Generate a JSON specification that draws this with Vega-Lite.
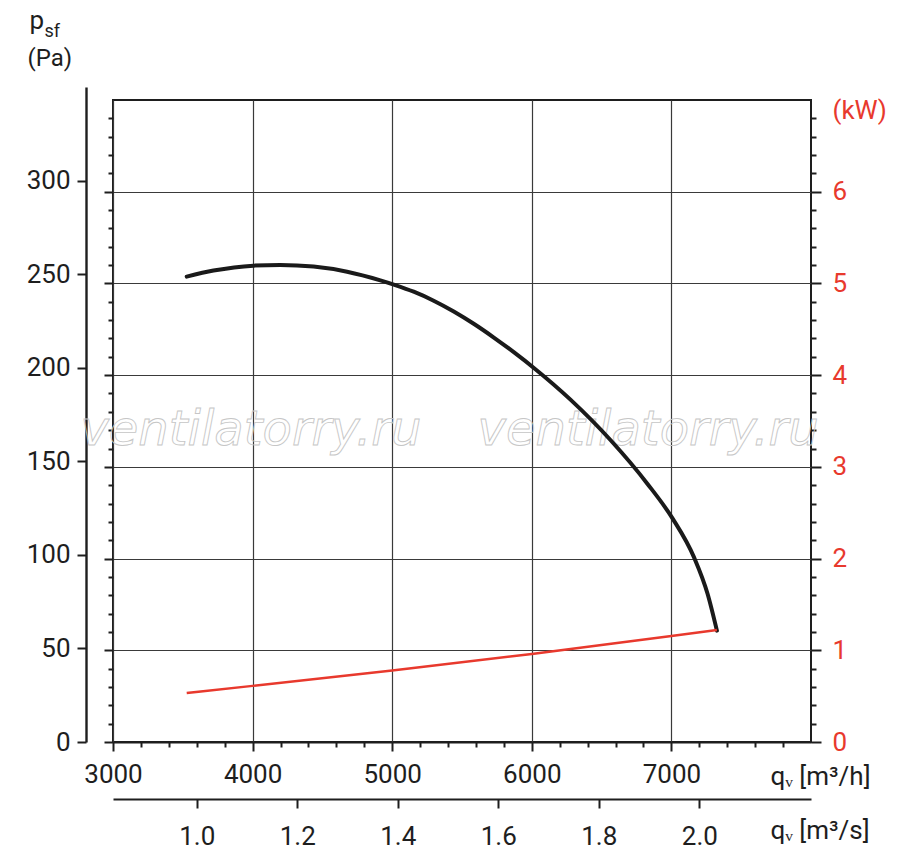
{
  "$schema": "https://vega.github.io/schema/vega-lite/v6.json",
  "autosize": {"type": "none"},
  "padding": {"left": 113, "top": 100, "right": 89, "bottom": 117},
  "width": 698,
  "height": 642,
  "background": "white",
  "config": {
    "view": {"stroke": "#1e1e1e", "strokeWidth": 2},
    "axis": {
      "labelFont": "Roboto",
      "titleFont": "Roboto",
      "labelFontSize": 26,
      "titleFontSize": 26,
      "titleFontWeight": "normal",
      "labelColor": "#1e1e1e",
      "titleColor": "#1e1e1e",
      "tickColor": "#1e1e1e",
      "domainColor": "#1e1e1e",
      "tickWidth": 2,
      "domainWidth": 2,
      "gridColor": "#3a3a3a",
      "gridWidth": 1.2,
      "gridOpacity": 1,
      "titleAngle": 0,
      "titleAlign": "left",
      "titleBaseline": "alphabetic",
      "labelFlush": false,
      "labelOverlap": false
    }
  },
  "datasets": {
    "fan": [
      {"q": 3528, "p": 253.7},
      {"q": 3720, "p": 257},
      {"q": 4006, "p": 259.7},
      {"q": 4198, "p": 260.1},
      {"q": 4437, "p": 259.2},
      {"q": 4677, "p": 256.4},
      {"q": 4915, "p": 251.7},
      {"q": 5011, "p": 249.4},
      {"q": 5154, "p": 245.5},
      {"q": 5297, "p": 240.6},
      {"q": 5441, "p": 234.7},
      {"q": 5584, "p": 228},
      {"q": 5728, "p": 220.5},
      {"q": 5871, "p": 212.5},
      {"q": 6015, "p": 203.9},
      {"q": 6279, "p": 186.5},
      {"q": 6565, "p": 164.5},
      {"q": 6829, "p": 140.7},
      {"q": 7008, "p": 121.9},
      {"q": 7163, "p": 100.5},
      {"q": 7259, "p": 80.8},
      {"q": 7326, "p": 60.7}
    ],
    "power": [
      {"q": 3528, "kw": 0.535},
      {"q": 4000, "kw": 0.612},
      {"q": 5000, "kw": 0.78},
      {"q": 6000, "kw": 0.96},
      {"q": 7000, "kw": 1.157},
      {"q": 7326, "kw": 1.22}
    ],
    "mark": [
      {"q": 3988, "p": 162, "t": "ventilatorry.ru"},
      {"q": 6833, "p": 162, "t": "ventilatorry.ru"}
    ]
  },
  "layer": [
    {
      "data": {"name": "mark"},
      "mark": {
        "type": "text",
        "font": "DejaVu Sans",
        "fontStyle": "italic",
        "fontSize": 48,
        "fill": "transparent",
        "stroke": "#c6c6c6",
        "strokeWidth": 0.9,
        "baseline": "alphabetic",
        "align": "center"
      },
      "encoding": {
        "x": {"field": "q", "type": "quantitative", "scale": {"domain": [3000, 8000]}, "axis": null},
        "y": {"field": "p", "type": "quantitative", "scale": {"domain": [0, 350]}, "axis": null},
        "text": {"field": "t"}
      }
    },
    {
      "data": {"name": "fan"},
      "mark": {"type": "line", "color": "#1a1a1a", "strokeWidth": 4, "strokeCap": "round", "interpolate": "monotone"},
      "encoding": {
        "x": {
          "field": "q", "type": "quantitative",
          "scale": {"domain": [3000, 8000], "nice": false},
          "axis": {
            "orient": "bottom",
            "values": [3000, 4000, 5000, 6000, 7000],
            "format": "d",
            "tickSize": 9,
            "labelPadding": 10,
            "grid": true,
            "domain": true,
            "title": "qᵥ [m³/h]",
            "titleX": 657,
            "titleY": 42
          }
        },
        "y": {
          "field": "p", "type": "quantitative",
          "scale": {"domain": [0, 350], "nice": false},
          "axis": {
            "orient": "left",
            "values": [0, 50, 100, 150, 200, 250, 300],
            "tickSize": 9,
            "labels": false,
            "domain": false,
            "grid": true,
            "title": "(Pa)",
            "titleFontSize": 24,
            "titleX": -86,
            "titleY": -35
          }
        }
      }
    },
    {
      "data": {"name": "power"},
      "mark": {"type": "line", "color": "#e8392d", "strokeWidth": 2.5, "interpolate": "monotone"},
      "encoding": {
        "x": {
          "field": "q", "type": "quantitative",
          "scale": {"domain": [3000, 8000], "nice": false},
          "axis": {
            "orient": "bottom",
            "values": [3200, 3400, 3600, 3800, 4200, 4400, 4600, 4800, 5200, 5400, 5600, 5800, 6200, 6400, 6600, 6800, 7200, 7400, 7600, 7800],
            "tickSize": 5,
            "labels": false,
            "domain": false,
            "grid": false,
            "title": null
          }
        },
        "y": {
          "field": "kw", "type": "quantitative",
          "scale": {"domain": [0, 7], "nice": false},
          "axis": {
            "orient": "right",
            "values": [0, 1, 2, 3, 4, 5, 6],
            "tickSize": 10,
            "labelPadding": 11,
            "labelColor": "#e8392d",
            "domain": false,
            "grid": false,
            "title": "(kW)",
            "titleColor": "#e8392d",
            "titleX": 21,
            "titleY": 18
          }
        }
      }
    },
    {
      "data": {"name": "fan"},
      "mark": {"type": "point", "opacity": 0},
      "encoding": {
        "y": {
          "field": "p", "type": "quantitative",
          "scale": {"domain": [0, 350], "nice": false, "range": [642, -13]},
          "axis": {
            "orient": "left",
            "offset": 27,
            "values": [0, 50, 100, 150, 200, 250, 300],
            "tickSize": 9,
            "labelPadding": 7,
            "domain": true,
            "domainWidth": 2.4,
            "grid": false,
            "title": "p",
            "titleX": -57,
            "titleY": -72
          }
        }
      }
    },
    {
      "data": {"name": "fan"},
      "mark": {"type": "point", "opacity": 0},
      "encoding": {
        "y": {
          "field": "p", "type": "quantitative",
          "scale": {"domain": [0, 350], "nice": false},
          "axis": {
            "orient": "left",
            "values": [10, 20, 30, 40, 60, 70, 80, 90, 110, 120, 130, 140, 160, 170, 180, 190, 210, 220, 230, 240, 260, 270, 280, 290, 310, 320, 330, 340],
            "tickSize": 5,
            "labels": false,
            "domain": false,
            "grid": false,
            "title": "sf",
            "titleFontSize": 18,
            "titleX": -69,
            "titleY": -64
          }
        }
      }
    },
    {
      "data": {"name": "fan"},
      "mark": {"type": "point", "opacity": 0},
      "encoding": {
        "y": {
          "field": "p", "type": "quantitative",
          "scale": {"domain": [0, 350], "nice": false},
          "axis": {
            "orient": "right",
            "values": [10, 20, 30, 40, 60, 70, 80, 90, 110, 120, 130, 140, 160, 170, 180, 190, 210, 220, 230, 240, 260, 270, 280, 290, 310, 320, 330, 340],
            "tickSize": 5,
            "labels": false,
            "domain": false,
            "grid": false,
            "title": null
          }
        }
      }
    },
    {
      "data": {"name": "fan"},
      "mark": {"type": "point", "opacity": 0},
      "encoding": {
        "x": {
          "field": "q", "type": "quantitative",
          "scale": {"domain": [3000, 8000], "nice": false},
          "axis": {
            "orient": "bottom",
            "offset": 57,
            "values": [3600, 4320, 5040, 5760, 6480, 7200],
            "labelExpr": "format(datum.value / 3600, '.1f')",
            "tickSize": 9,
            "labelPadding": 15,
            "domain": true,
            "grid": false,
            "title": "qᵥ [m³/s]",
            "titleX": 657,
            "titleY": 39
          }
        },
        "y": {"field": "p", "type": "quantitative", "scale": {"domain": [0, 350]}, "axis": null}
      }
    }
  ],
  "resolve": {
    "scale": {"x": "independent", "y": "independent"},
    "axis": {"x": "independent", "y": "independent"}
  }
}
